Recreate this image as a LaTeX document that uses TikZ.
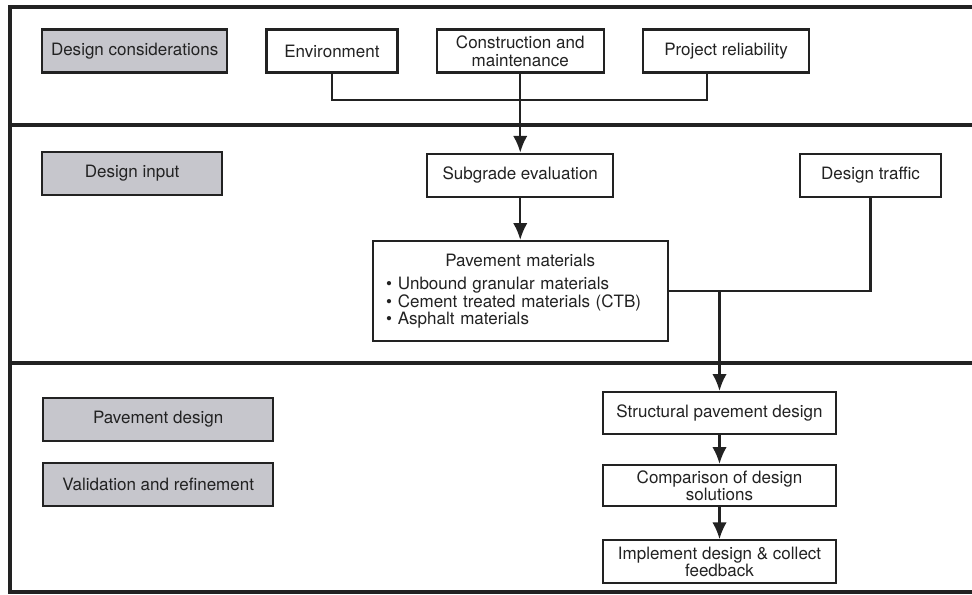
\documentclass[tikz,border=0pt]{standalone}
\usepackage{fontspec}
\setmainfont{TeX Gyre Heros}
\usepackage{xcolor}
\usetikzlibrary{calc}
\usetikzlibrary{positioning}
\usetikzlibrary{arrows.meta}

\definecolor{labelgray}{RGB}{198,198,204}
\definecolor{inkgray}{RGB}{34,34,34}

\begin{document}
\begin{tikzpicture}[x=0.025cm,y=-0.025cm,
      font=\fontsize{12.1pt}{12.5pt}\selectfont,
      text=inkgray,
      stage style/.style={rectangle,draw=inkgray,fill=labelgray,line width=1.6pt,
        minimum width=4.6cm,minimum height=1.075cm,align=center,inner sep=2pt},
      box style/.style={rectangle,draw=inkgray,fill=white,line width=1.6pt,
        minimum height=1.075cm,align=center,inner sep=2pt},
      frame style/.style={draw=inkgray,line width=2.5pt},
      link/.style={draw=inkgray,line width=1.6pt},
      arr/.style={link,-{Latex[length=4.2mm,width=3.6mm]}}
      ]
      \useasboundingbox (0,0) rectangle (972,594);

      % frame and rows
      \draw[frame style] (980,7) -- (10,7) -- (10,592) -- (980,592);
      \draw[frame style] (10,125) -- (980,125);
      \draw[frame style] (10,363) -- (980,363);

      % stage labels
      \node[stage style,anchor=west,minimum width=4.625cm] (consid) at (41,51) {Design considerations};
      \node[stage style,anchor=west,minimum width=4.5cm] (input) at (41,173.5) {Design input};
      \node[stage style,anchor=west,minimum width=5.75cm] (pdesign) at (42,419.5) {Pavement design};
      \node[stage style,below=0.5cm of pdesign,minimum width=5.75cm] (valid) {Validation and refinement};

      % design considerations
      \node[box style,right=0.925cm of consid,minimum width=3.275cm] (env) {Environment};
      \node[box style,right=0.925cm of env,minimum width=4.175cm] (constr) {Construction and\\maintenance};
      \node[box style,right=0.925cm of constr,minimum width=4.15cm] (proj) {Project reliability};

      % design input
      \node[box style,below=1.975cm of constr,minimum width=4.65cm] (subgrade) {Subgrade evaluation};
      \node[box style,minimum width=3.525cm] (traffic) at (870.5,175.5) {Design traffic};
      \node[box style,below=1.05cm of subgrade,minimum width=7.375cm,minimum height=2.5cm,
        text width=6.7cm,align=left,inner xsep=0.33cm] (pavmat)
        {\makebox[\linewidth]{Pavement materials}\\[4pt]
         \textbullet\ Unbound granular materials\\
         \textbullet\ Cement treated materials (CTB)\\
         \textbullet\ Asphalt materials};

      % pavement design
      \node[box style,minimum width=5.825cm,minimum height=1.05cm] (struct) at (719.5,413) {Structural pavement design};
      \node[box style,below=0.72cm of struct,minimum width=5.825cm,minimum height=1.025cm] (compare) {Comparison of design\\solutions};
      \node[box style,below=0.8cm of compare,minimum width=5.825cm] (implement) {Implement design \& collect\\feedback};

      \coordinate (collect) at (0,100);
      \coordinate (split) at (struct.north |- pavmat.east);

      \draw[link] (env.south) -- (env.south |- collect) -| ([xshift=-0.475cm]proj.south);
      \draw[arr] (constr) -- (subgrade);
      \draw[arr] (subgrade) -- (pavmat);
      \draw[link] (traffic.south) |- (pavmat.east);
      \draw[arr] (split) -- (struct);
      \draw[arr] (struct) -- (compare);
      \draw[arr] (compare) -- (implement);

    \end{tikzpicture}
\end{document}
